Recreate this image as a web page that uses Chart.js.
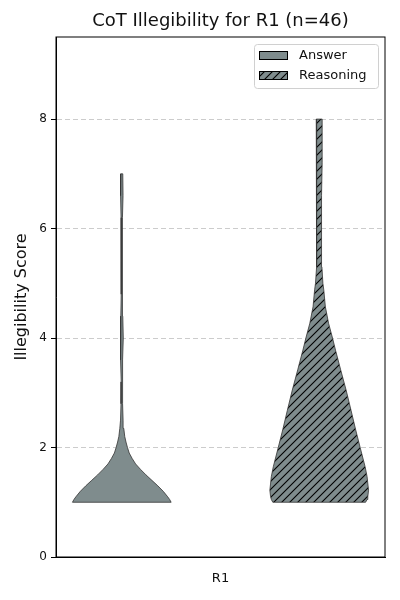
<!DOCTYPE html>
<html>
<head>
<meta charset="utf-8">
<script src="https://cdn.jsdelivr.net/npm/chart.js@4.4.1/dist/chart.umd.min.js"></script>
<style>
    html, body { margin: 0; padding: 0; background: #fff; }
    #wrap { width: 400px; height: 600px; }
</style>
</head>
<body>
<div id="wrap"><canvas id="violinChart" width="400" height="600"></canvas></div>
<script>
// Data
const categories = ['R1'];
const seriesNames = ['Answer', 'Reasoning'];
const yTicks = [0, 2, 4, 6, 8];

// Answer violin: score levels and relative width (widest = 1)
const answerLevels = [1.0, 1.05, 1.1, 1.2, 1.3, 1.4, 1.5, 1.6, 1.7, 1.8, 1.9, 2.0, 2.1, 2.2, 2.35, 2.5, 2.8, 3.2, 3.6, 4.0, 4.4, 4.8, 5.5, 6.2, 6.6, 7.0];
const answerWidths = [1.0, 0.97, 0.93, 0.84, 0.73, 0.61, 0.49, 0.38, 0.28, 0.21, 0.15, 0.115, 0.085, 0.06, 0.04, 0.026, 0.016, 0.012, 0.02, 0.03, 0.02, 0.012, 0.012, 0.015, 0.025, 0.02];

// Reasoning violin
const reasoningLevels = [1.0, 1.05, 1.1, 1.22, 1.47, 1.65, 2.0, 2.32, 2.68, 3.05, 3.42, 3.78, 4.0, 4.27, 4.57, 4.88, 5.0, 5.3, 6.0, 6.6, 7.2, 8.0];
const reasoningWidths = [0.94, 0.97, 0.985, 1.0, 0.97, 0.93, 0.83, 0.74, 0.645, 0.545, 0.435, 0.33, 0.27, 0.19, 0.125, 0.093, 0.075, 0.055, 0.045, 0.05, 0.06, 0.06];

const violinCenters = [-0.6, 0.6];
const violinHalfWidth = 0.3;
const violinColor = '#7f8c8d';
const edgeColor = '#333333';
const fontFamily = '"DejaVu Sans", "Noto Sans", sans-serif';

// Build a closed outline: bottom edge, up the right side, down the left side
function violinOutline(levels, widths, center) {
    const pts = [];
    pts.push({ x: center - widths[0] * violinHalfWidth, y: levels[0] });
    for (let i = 0; i < levels.length; i++) {
        pts.push({ x: center + widths[i] * violinHalfWidth, y: levels[i] });
    }
    for (let i = levels.length - 1; i >= 0; i--) {
        pts.push({ x: center - widths[i] * violinHalfWidth, y: levels[i] });
    }
    return pts;
}

// Hatch pattern "//"
function makeHatch(bg, lineColor) {
    const size = 8;
    const c = document.createElement('canvas');
    c.width = size;
    c.height = size;
    const g = c.getContext('2d');
    g.fillStyle = bg;
    g.fillRect(0, 0, size, size);
    g.strokeStyle = lineColor;
    g.lineWidth = 1.1;
    g.beginPath();
    g.moveTo(0, size);
    g.lineTo(size, 0);
    g.moveTo(-size / 2, size / 2);
    g.lineTo(size / 2, -size / 2);
    g.moveTo(size / 2, size * 1.5);
    g.lineTo(size * 1.5, size / 2);
    g.stroke();
    return g.createPattern(c, 'repeat');
}

const hatch = makeHatch(violinColor, '#000');

// Frame around the plot (top and right sides)
const framePlugin = {
    id: 'frame',
    afterDatasetsDraw(chart) {
        const { ctx, chartArea } = chart;
        ctx.save();
        ctx.strokeStyle = '#000';
        ctx.lineWidth = 1;
        ctx.strokeRect(chartArea.left, chartArea.top, chartArea.right - chartArea.left, chartArea.bottom - chartArea.top);
        ctx.restore();
    }
};

// Legend box inside the plot, top right
const boxLegend = {
    id: 'boxLegend',
    afterDraw(chart) {
        const { ctx, chartArea } = chart;
        const w = 124, h = 44;
        const x = chartArea.right - 7 - w;
        const y = chartArea.top + 7;
        ctx.save();
        ctx.fillStyle = 'rgba(255,255,255,0.8)';
        ctx.strokeStyle = '#d0d0d0';
        ctx.lineWidth = 1;
        ctx.beginPath();
        ctx.roundRect(x + 0.5, y + 0.5, w, h, 3);
        ctx.fill();
        ctx.stroke();
        ctx.font = '13px ' + fontFamily;
        ctx.textBaseline = 'middle';
        chart.data.datasets.forEach((ds, i) => {
            const cy = y + 11.5 + i * 20;
            ctx.fillStyle = ds.backgroundColor;
            ctx.fillRect(x + 5, cy - 4.5, 29, 9);
            ctx.strokeStyle = '#000';
            ctx.lineWidth = 1;
            ctx.strokeRect(x + 5.5, cy - 4, 28, 8);
            ctx.fillStyle = '#111';
            ctx.fillText(ds.label, x + 45, cy);
        });
        ctx.restore();
    }
};

const ctx = document.getElementById('violinChart');
new Chart(ctx, {
    type: 'scatter',
    data: {
        datasets: [{
            label: seriesNames[0],
            data: violinOutline(answerLevels, answerWidths, violinCenters[0]),
            showLine: true,
            fill: 'shape',
            backgroundColor: violinColor,
            borderColor: edgeColor,
            borderWidth: 0.8,
            pointRadius: 0,
            tension: 0
        }, {
            label: seriesNames[1],
            data: violinOutline(reasoningLevels, reasoningWidths, violinCenters[1]),
            showLine: true,
            fill: 'shape',
            backgroundColor: hatch,
            borderColor: edgeColor,
            borderWidth: 0.8,
            pointRadius: 0,
            tension: 0
        }]
    },
    options: {
        responsive: false,
        animation: false,
        layout: {
            padding: { left: 0, right: 15, top: 0, bottom: 0 }
        },
        plugins: {
            legend: { display: false },
            tooltip: { enabled: false },
            title: {
                display: true,
                text: 'CoT Illegibility for R1 (n=46)',
                fullSize: false,
                color: '#111',
                font: { family: fontFamily, size: 18, weight: 'normal' },
                padding: { top: 10.5, bottom: 4.9 }
            }
        },
        scales: {
            x: {
                type: 'linear',
                min: -1,
                max: 1,
                afterBuildTicks: scale => { scale.ticks = [{ value: 0 }]; },
                afterFit: scale => { scale.height = 43; },
                ticks: {
                    callback: () => categories[0],
                    color: '#111',
                    font: { family: fontFamily, size: 13 },
                    padding: 14,
                    maxRotation: 0
                },
                grid: { display: false, drawTicks: false },
                border: { color: '#000', width: 1 }
            },
            y: {
                min: 0,
                max: 9.5,
                afterBuildTicks: scale => { scale.ticks = yTicks.map(v => ({ value: v })); },
                afterFit: scale => { scale.width = 56; },
                ticks: {
                    color: '#111',
                    font: { family: fontFamily, size: 12 },
                    padding: 4
                },
                grid: {
                    color: 'rgba(170,170,170,0.75)',
                    lineWidth: 0.8,
                    tickColor: '#000',
                    tickLength: 5,
                    tickWidth: 1
                },
                border: { color: '#000', width: 1, dash: [5, 3] },
                title: {
                    display: true,
                    text: 'Illegibility Score',
                    color: '#111',
                    font: { family: fontFamily, size: 16 },
                    padding: { top: 12, bottom: 0 }
                }
            }
        }
    },
    plugins: [framePlugin, boxLegend]
});
</script>
</body>
</html>
